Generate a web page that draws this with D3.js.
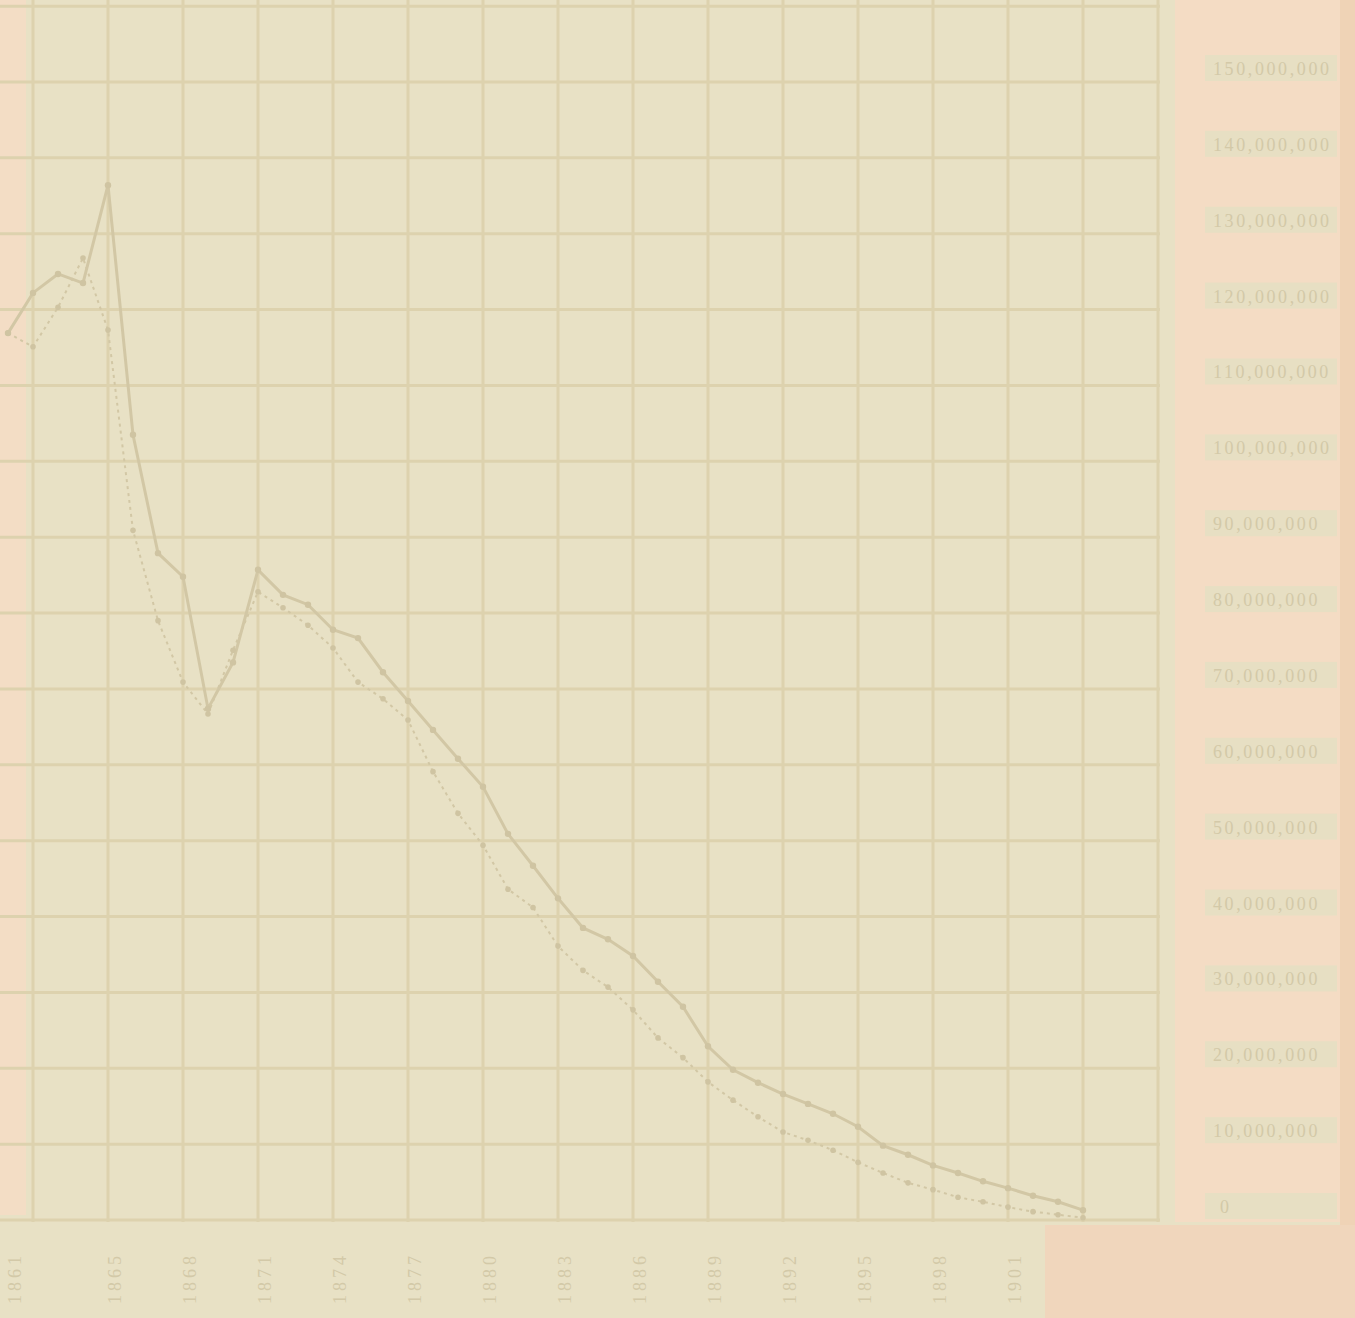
<!DOCTYPE html>
<html>
<head>
<meta charset="utf-8">
<script src="https://cdn.jsdelivr.net/npm/d3@7"></script>
<style>
  html, body { margin: 0; padding: 0; background: #e8e1c5; }
  svg { display: block; }
</style>
</head>
<body>
<svg id="chart" width="1355" height="1318"></svg>
<script>
// ---- data ----
const years = [1861,1862,1863,1864,1865,1866,1867,1868,1869,1870,1871,1872,1873,1874,1875,1876,1877,1878,1879,1880,1881,1882,1883,1884,1885,1886,1887,1888,1889,1890,1891,1892,1893,1894,1895,1896,1897,1898,1899,1900,1901,1902,1903,1904];
// solid series (millions)
const solidSeries = [116.9,122.2,124.7,123.5,136.4,103.5,87.9,84.8,67.4,73.5,85.7,82.4,81.1,77.8,76.7,72.2,68.4,64.6,60.8,57.1,50.9,46.7,42.4,38.5,37.0,34.8,31.4,28.1,22.9,19.8,18.1,16.6,15.3,14.0,12.3,9.8,8.6,7.2,6.2,5.1,4.2,3.2,2.4,1.3];
// dotted series (millions)
const dottedSeries = [116.9,115.1,120.3,126.8,117.3,90.9,79.0,70.9,66.7,75.1,82.8,80.7,78.4,75.4,70.9,68.7,65.9,59.1,53.6,49.4,43.6,41.2,36.1,32.9,30.7,27.7,24.0,21.4,18.2,15.8,13.6,11.6,10.5,9.2,7.6,6.2,4.9,4.0,3.0,2.4,1.7,1.1,0.7,0.3];
const yTickValues = [0,10,20,30,40,50,60,70,80,90,100,110,120,130,140,150];
const yTickLabels = ["0","10,000,000","20,000,000","30,000,000","40,000,000","50,000,000","60,000,000","70,000,000","80,000,000","90,000,000","100,000,000","110,000,000","120,000,000","130,000,000","140,000,000","150,000,000"];
const gridYears = [1862,1865,1868,1871,1874,1877,1880,1883,1886,1889,1892,1895,1898,1901,1904,1907];
const gridValues = [0,10,20,30,40,50,60,70,80,90,100,110,120,130,140,150,160];
const xTickYears = [1861,1865,1868,1871,1874,1877,1880,1883,1886,1889,1892,1895,1898,1901];

// ---- drawing ----
const svg = d3.select("#chart");
const W = 1355, H = 1318;
const x = d3.scaleLinear().domain([1861, 1904]).range([8, 1083]);
const y = d3.scaleLinear().domain([0, 150]).range([1220, 82]);

const bg = "#e8e1c5", peach = "#f4dcc4", gridC = "#ddd2ae", lineC = "#d2c7a5", textC = "#d3c9a8";

// background
svg.append("rect").attr("width", W).attr("height", H).attr("fill", bg);
// peach paper areas
svg.append("rect").attr("x", 0).attr("y", 0).attr("width", 26).attr("height", 1215).attr("fill", peach).attr("opacity", 0.85);
svg.append("rect").attr("x", 1175).attr("y", 0).attr("width", 168).attr("height", 1222).attr("fill", peach);
svg.append("rect").attr("x", 1340).attr("y", 0).attr("width", 15).attr("height", H).attr("fill", "#efd3b6");
svg.append("rect").attr("x", 1045).attr("y", 1225).attr("width", 310).attr("height", 93).attr("fill", "#f0d6bc");
// beige label rows in label column
svg.append("g").selectAll("rect").data(yTickValues).join("rect")
  .attr("x", 1205).attr("y", d => y(d) - 27).attr("width", 132).attr("height", 26)
  .attr("fill", "#e7dfc3");

// grid
const grid = svg.append("g");
grid.selectAll("line.h").data(gridValues).join("line")
  .attr("class", "h")
  .attr("x1", 0).attr("x2", 1160)
  .attr("y1", d => y(d)).attr("y2", d => y(d))
  .attr("stroke", gridC).attr("stroke-width", 3);
grid.selectAll("line.v").data(gridYears).join("line")
  .attr("class", "v")
  .attr("x1", d => x(d)).attr("x2", d => x(d))
  .attr("y1", 0).attr("y2", y(0) + 2)
  .attr("stroke", gridC).attr("stroke-width", 3);

// y labels (right side)
svg.append("g").selectAll("text").data(yTickValues).join("text")
  .attr("x", d => d === 0 ? 1220 : 1213)
  .attr("y", d => y(d) - 7)
  .attr("font-family", "Liberation Serif, serif")
  .attr("font-size", 18)
  .attr("letter-spacing", 2.6)
  .attr("fill", textC)
  .text((d, i) => yTickLabels[i]);

// x labels (rotated years)
svg.append("g").selectAll("text").data(xTickYears).join("text")
  .attr("transform", d => `translate(${x(d) + 13},1278) rotate(-90)`)
  .attr("text-anchor", "middle")
  .attr("font-family", "Liberation Serif, serif")
  .attr("font-size", 18)
  .attr("letter-spacing", 4)
  .attr("fill", textC)
  .text(d => d);

// lines
const solidData = years.map((yr, i) => [yr, solidSeries[i]]);
const dottedData = years.map((yr, i) => [yr, dottedSeries[i]]);
const line = d3.line().x(d => x(d[0])).y(d => y(d[1]));

svg.append("path").datum(dottedData)
  .attr("d", line).attr("fill", "none")
  .attr("stroke", lineC).attr("stroke-width", 2)
  .attr("stroke-dasharray", "3,4");
svg.append("path").datum(solidData)
  .attr("d", line).attr("fill", "none")
  .attr("stroke", lineC).attr("stroke-width", 3);

svg.append("g").selectAll("circle").data(dottedData).join("circle")
  .attr("cx", d => x(d[0])).attr("cy", d => y(d[1])).attr("r", 2.8)
  .attr("fill", "#cfc4a2");
svg.append("g").selectAll("circle").data(solidData).join("circle")
  .attr("cx", d => x(d[0])).attr("cy", d => y(d[1])).attr("r", 3.2)
  .attr("fill", "#cfc4a2");
</script>
</body>
</html>
